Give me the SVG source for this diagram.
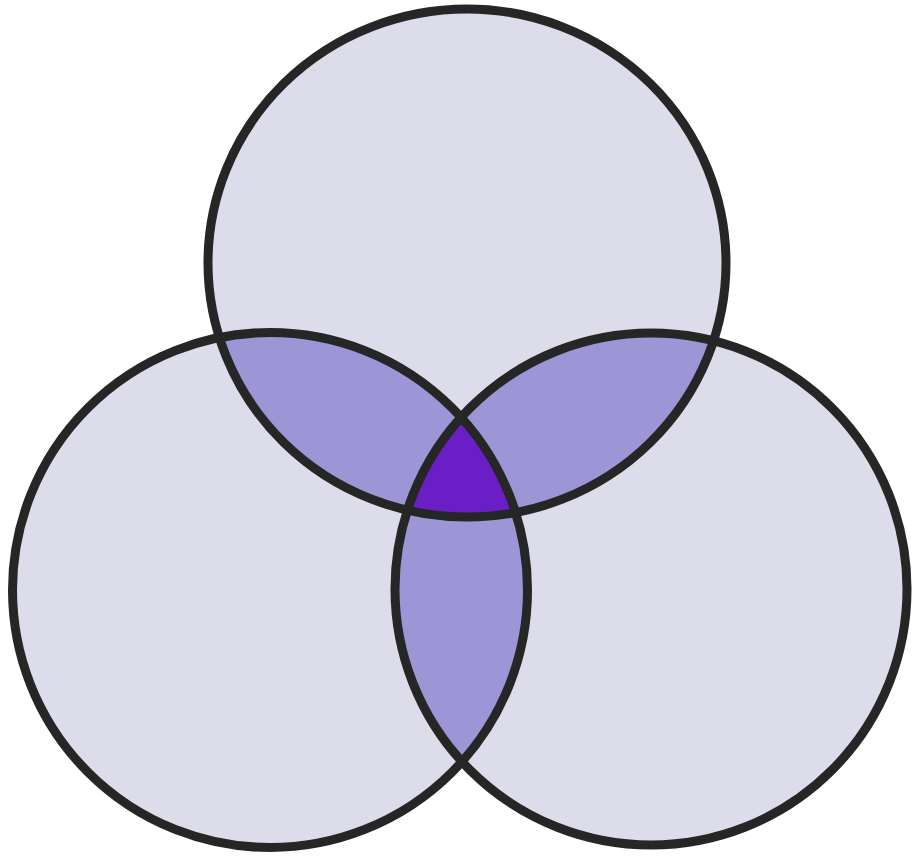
<svg xmlns="http://www.w3.org/2000/svg" width="912" height="856" viewBox="0 0 912 856">
  <style>
    .fill { fill: #dddcea; stroke: none; }
    .pair { fill: #9c95d6; }
    .triple { fill: #6a1fc6; }
    .ring { fill: none; stroke: #262626; stroke-width: 9; }
  </style>
  <defs>
    <clipPath id="clipTop"><ellipse cx="467" cy="263" rx="259" ry="254"/></clipPath>
    <clipPath id="clipLeft"><circle cx="270" cy="590" r="257.5"/></clipPath>
    <clipPath id="clipRight"><circle cx="651" cy="589" r="256"/></clipPath>
  </defs>
  <rect x="0" y="0" width="912" height="856" fill="#ffffff"/>
  <g id="circle-top">
    <ellipse class="fill" cx="467" cy="263" rx="259" ry="254"/>
  </g>
  <g id="circle-left">
    <circle class="fill" cx="270" cy="590" r="257.5"/>
  </g>
  <g id="circle-right">
    <circle class="fill" cx="651" cy="589" r="256"/>
  </g>
  <g id="overlaps">
    <g clip-path="url(#clipTop)">
      <circle class="pair" cx="270" cy="590" r="257.5"/>
      <circle class="pair" cx="651" cy="589" r="256"/>
    </g>
    <g clip-path="url(#clipLeft)">
      <circle class="pair" cx="651" cy="589" r="256"/>
    </g>
    <g clip-path="url(#clipTop)">
      <g clip-path="url(#clipLeft)">
        <circle class="triple" cx="651" cy="589" r="256"/>
      </g>
    </g>
  </g>
  <g id="outlines">
    <ellipse class="ring" cx="467" cy="263" rx="259" ry="254"/>
    <circle class="ring" cx="270" cy="590" r="257.5"/>
    <circle class="ring" cx="651" cy="589" r="256"/>
  </g>
</svg>
